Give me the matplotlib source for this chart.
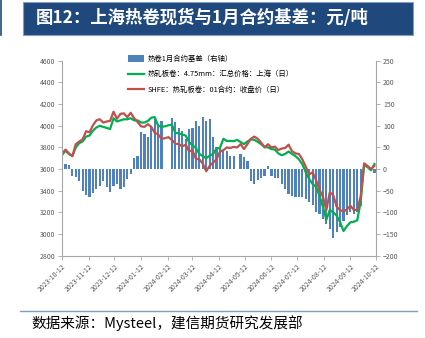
import numpy as np
import pandas as pd
import matplotlib
matplotlib.use("Agg")
import matplotlib.pyplot as plt
from matplotlib.patches import Rectangle, Patch
from matplotlib.lines import Line2D
import matplotlib.dates as mdates

plt.rcParams['font.family'] = ['Noto Sans CJK SC', 'DejaVu Sans']

################### DATA (one point every 4 days)

start_date = '2023-10-12'
n_points = 92

# 热轧板卷：4.75mm：汇总价格：上海（日）  元/吨
spot_sh = [3730, 3770, 3740, 3720, 3800, 3840, 3855, 3900, 3910, 3955,
           3985, 4000, 3990, 3980, 3970, 4070, 4040, 4050, 4060, 4060,
           4070, 4050, 4050, 4030, 4030, 4045, 4075, 4080, 4000, 3990,
           3995, 4005, 4010, 3935, 3930, 3920, 3910, 3850, 3820, 3795,
           3740, 3720, 3700, 3725, 3740, 3790, 3795, 3880, 3860, 3860,
           3858, 3870, 3850, 3830, 3855, 3875, 3870, 3852, 3830, 3805,
           3800, 3785, 3780, 3745, 3728, 3740, 3763, 3740, 3720, 3690,
           3645, 3570, 3508, 3462, 3437, 3354, 3252, 3132, 3222, 3201,
           3170, 3110, 3028, 3074, 3108, 3114, 3127, 3300, 3637, 3618,
           3589, 3647]

# SHFE：热轧板卷：01合约：收盘价（日）
shfe_01 = [3740, 3780, 3745, 3720, 3830, 3855, 3875, 3950, 3940, 4005,
           4050, 4060, 4030, 4040, 4045, 4130, 4065, 4110, 4115, 4080,
           4120, 4070, 4035, 3995, 3990, 4015, 3990, 3935, 3920, 3880,
           3885, 3895, 3870, 3835, 3830, 3810, 3825, 3765, 3770, 3695,
           3690, 3650, 3580, 3630, 3660, 3690, 3760, 3775, 3800, 3795,
           3805, 3800, 3830, 3785, 3830, 3880, 3900, 3880, 3845, 3800,
           3830, 3800, 3808, 3775, 3790, 3795, 3825, 3765, 3745, 3740,
           3690, 3622, 3551, 3570, 3499, 3407, 3345, 3222, 3385, 3360,
           3252, 3222, 3207, 3228, 3262, 3222, 3222, 3350, 3653, 3630,
           3600, 3630]

# 热卷1月合约基差（右轴）, nan = holiday
basis = [8, 12, 10, -15, -19, -27, -50, -60, -65, -55,
         -46, -38, -27, -42, -53, -38, -34, -46, -42, -23,
         -11, 25, 31, 85, 80, 75, 100, 115, 105, 110,
         np.nan, np.nan, 119, 108, 96, 88, 70, 92, 95, 112,
         100, 120, 112, 115, 73, 50, 50, 42, 42, 31,
         30, np.nan, 35, 27, 19, -27, -35, -25, -20, -15,
         8, -15, -20, -20, -35, -46, -58, -62, -65, -65,
         -65, -70, -77, -84, -100, -103, -115, -127, -138, -160,
         -145, -134, -120, -107, -100, -103, -100, -85, np.nan, np.nan,
         np.nan, -10]

dates = pd.date_range(start_date, periods=n_points, freq='4D')
tick_dates = pd.date_range('2023-10-01', '2024-10-01', freq='MS') + pd.Timedelta(days=11)

label_basis = '热卷1月合约基差（右轴）'
label_spot = '热轧板卷：4.75mm：汇总价格：上海（日）'
label_fut = 'SHFE：热轧板卷：01合约：收盘价（日）'

################### FIGURE

fig = plt.figure(figsize=(4.25, 3.38), dpi=100)

# title bar
fig.patches.append(Rectangle((0.054, 0.8964), 0.918, 0.0976, transform=fig.transFigure,
                             facecolor='#1F497D', edgecolor='#7F9DC5', lw=0.8))
fig.lines.append(Line2D([0.002, 0.002], [0.895, 1.0], transform=fig.transFigure,
                        color='#1F497D', lw=1.2))
fig.text(0.083, 0.947, '图12：上海热卷现货与1月合约基差：元/吨', color='white',
         fontsize=12.5, fontweight='bold', va='center', ha='left')

ax = fig.add_axes([0.146, 0.2435, 0.739, 0.5765])
ax2 = ax.twinx()
ax.set_zorder(ax2.get_zorder() + 1)
ax.patch.set_visible(False)

bar_color = '#4F81BD'
ax2.bar(dates, basis, width=2.6, color=bar_color, linewidth=0)
ax.plot(dates, spot_sh, color='#00B050', lw=1.6)
ax.plot(dates, shfe_01, color='#C0504D', lw=1.6)

ax.set_ylim(2800, 4600)
ax.set_yticks(np.arange(2800, 4601, 200))
ax2.set_ylim(-200, 250)
ax2.set_yticks(np.arange(-200, 251, 50))
ax.set_xlim(pd.Timestamp('2023-10-12'), pd.Timestamp('2024-10-12'))
ax.set_xticks(tick_dates)
ax.xaxis.set_major_formatter(mdates.DateFormatter('%Y-%m-%d'))

axis_col = '#A6A6A6'
for a in (ax, ax2):
    for s in a.spines.values():
        s.set_color(axis_col)
        s.set_linewidth(0.8)
    a.spines['top'].set_visible(False)
    a.tick_params(colors='#595959', labelsize=5, length=3, width=0.6, pad=2)
    a.tick_params(axis='both', color=axis_col)
ax.spines['right'].set_visible(False)
ax2.spines['left'].set_visible(False)
ax2.spines['bottom'].set_visible(False)
for lab in ax.get_xticklabels():
    lab.set_rotation(45)
    lab.set_ha('right')
    lab.set_rotation_mode('anchor')

handles = [Patch(facecolor=bar_color, edgecolor='none'),
           Line2D([], [], color='#00B050', lw=1.6),
           Line2D([], [], color='#C0504D', lw=1.6)]
fig.legend(handles, [label_basis, label_spot, label_fut], loc='upper left',
           bbox_to_anchor=(128 / 425, 1 - 55 / 338), frameon=False, fontsize=5.3,
           handlelength=2.2, handleheight=0.9, handletextpad=0.45, labelspacing=1.0,
           borderpad=0, borderaxespad=0)

# footer
fig.lines.append(Line2D([0.047, 0.981], [0.080, 0.080], transform=fig.transFigure,
                        color='#7F9DC5', lw=1))
fig.text(0.075, 0.045, '数据来源：Mysteel，建信期货研究发展部', fontsize=10.5,
         style='italic', va='center', ha='left', color='black')

fig.savefig('out.png', dpi=100)
